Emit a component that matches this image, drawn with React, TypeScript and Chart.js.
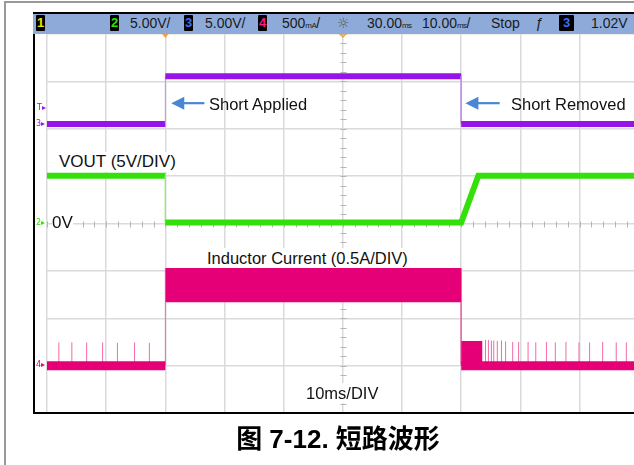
import React, { useEffect, useRef } from "react";
import { Chart, registerables } from "chart.js";

Chart.register(...registerables);

// ---------- Screen axes: time in ms (10 ms/div), vertical in screen divisions (8 div, centre = 0) ----------
const TIME_MIN_MS = 0;
const TIME_MAX_MS = 99.2; // the 10th division is cropped at the right edge of the capture
const TIME_STEP_MS = 10;
const DIV_MIN = -4;
const DIV_MAX = 4;

// ---------- Ch3: short-circuit control signal (purple), divisions ----------
const shortTimesMs = [0, 20, 20, 70, 70, 99.2];
const shortLevelsDiv = [2.1, 2.1, 3.11, 3.11, 2.1, 2.1];

// ---------- Ch2: VOUT (green), 5 V/div, 0 V on the centre line ----------
const voutTimesMs = [0, 20, 20, 70, 72.9, 99.2];
const voutLevelsDiv = [1.01, 1.01, 0.02, 0.02, 1.01, 1.01];

// ---------- Ch4: inductor current (pink), divisions ----------
const idleBeforeTimesMs = [0, 20];
const idleAfterTimesMs = [70, 99.2];
const idleLevelDiv = -3.0;
const shortBandTimesMs = [20, 70];
const shortBandTopDiv = [-0.94, -0.94];
const shortBandBottomDiv = [-1.66, -1.66];
const restartTimesMs = [70, 73.6];
const restartTopDiv = [-2.48, -2.48];
const edgeTimesMs = [20, 70];
const spikeTimesMs = [
  2.0, 4.2, 6.7, 9.4, 11.9, 14.8, 17.3,
  74.1, 74.6, 75.1, 75.5, 76.1, 76.8, 77.5, 78.7, 79.7, 81.3, 82.6, 84.4, 85.9, 87.7, 89.9, 91.7, 93.9, 96.2, 97.9,
];
const spikeTopsDiv = [
  -2.51, -2.51, -2.51, -2.51, -2.52, -2.51, -2.52,
  -2.46, -2.46, -2.47, -2.47, -2.48, -2.47, -2.49, -2.5, -2.5, -2.5, -2.51, -2.5, -2.51, -2.5, -2.51, -2.51, -2.5, -2.51, -2.51,
];

// ---------- Annotation arrows (data units) ----------
const arrowShortApplied = { fromMs: 26.6, toMs: 21.0, atDiv: 2.54 };
const arrowShortRemoved = { fromMs: 76.5, toMs: 70.7, atDiv: 2.54 };

const PURPLE = "#9614e6";
const PURPLE_LIGHT = "#c68cf2";
const GREEN = "#33e00a";
const GREEN_LIGHT = "#8ef06e";
const PINK = "#e60078";
const PINK_LIGHT = "#f06aa8";

const pts = (xs: number[], ys: number[]) => xs.map((x, i) => ({ x, y: ys[i] }));

const verticalThin = (w: number, main: string, light: string) => ({
  borderWidth: (c: any) => (c.p0.parsed.x === c.p1.parsed.x ? 1 : w),
  borderColor: (c: any) => (c.p0.parsed.x === c.p1.parsed.x ? light : main),
});

const scopePlugin = {
  id: "scopeDecor",
  beforeDatasetsDraw(chart: any) {
    const { ctx, scales } = chart;
    const x = scales.x;
    const y = scales.y;
    const x0 = Math.round(x.getPixelForValue(50)) + 0.5;
    const y0 = Math.round(y.getPixelForValue(0)) + 0.5;
    ctx.save();
    ctx.strokeStyle = "#b5b5b5";
    ctx.lineWidth = 1;
    ctx.beginPath();
    for (let t = TIME_MIN_MS; t <= TIME_MAX_MS; t += TIME_STEP_MS / 5) {
      const px = Math.round(x.getPixelForValue(t)) + 0.5;
      ctx.moveTo(px, y0 - 3);
      ctx.lineTo(px, y0 + 3);
    }
    for (let d = DIV_MIN; d <= DIV_MAX + 0.001; d += 0.2) {
      const py = Math.round(y.getPixelForValue(d)) + 0.5;
      ctx.moveTo(x0 - 3, py);
      ctx.lineTo(x0 + 3, py);
    }
    ctx.stroke();
    ctx.restore();
  },
  afterDraw(chart: any) {
    const { ctx, scales, chartArea } = chart;
    const x = scales.x;
    const y = scales.y;
    const drawArrow = (a: { fromMs: number; toMs: number; atDiv: number }) => {
      const tail = x.getPixelForValue(a.fromMs);
      const tip = x.getPixelForValue(a.toMs);
      const py = y.getPixelForValue(a.atDiv);
      const head = 13;
      ctx.save();
      ctx.strokeStyle = "#4a86d4";
      ctx.fillStyle = "#4a86d4";
      ctx.lineWidth = 2.2;
      ctx.beginPath();
      ctx.moveTo(tail, py);
      ctx.lineTo(tip + head - 1, py);
      ctx.stroke();
      ctx.beginPath();
      ctx.moveTo(tip, py);
      ctx.lineTo(tip + head, py - 6.5);
      ctx.lineTo(tip + head, py + 6.5);
      ctx.closePath();
      ctx.fill();
      ctx.restore();
    };
    drawArrow(arrowShortApplied);
    drawArrow(arrowShortRemoved);

    // orange trigger / delay markers below the header
    const top = chartArea.top - 1;
    const tx = x.getPixelForValue(20);
    ctx.save();
    ctx.fillStyle = "#f2a23a";
    ctx.beginPath();
    ctx.moveTo(tx - 4, top);
    ctx.lineTo(tx + 4, top);
    ctx.lineTo(tx, top + 5);
    ctx.closePath();
    ctx.fill();
    const cx = x.getPixelForValue(50);
    ctx.strokeStyle = "#f2a23a";
    ctx.lineWidth = 1.5;
    ctx.beginPath();
    ctx.moveTo(cx - 4, top);
    ctx.lineTo(cx, top + 4);
    ctx.lineTo(cx + 4, top);
    ctx.stroke();
    ctx.restore();
  },
};

const FONT = "'Liberation Sans', Arial, sans-serif";

const labelStyle = (left: number, top: number, size = 16.5): React.CSSProperties => ({
  position: "absolute",
  left,
  top,
  fontFamily: FONT,
  fontSize: size,
  lineHeight: "20px",
  color: "#111",
  background: "#fff",
  whiteSpace: "nowrap",
});

const boxStyle = (left: number, width: number, color: string): React.CSSProperties => ({
  position: "absolute",
  left,
  top: 15,
  width,
  height: 16,
  background: "#000",
  color,
  fontFamily: FONT,
  fontSize: 13,
  fontWeight: "bold",
  lineHeight: "16px",
  textAlign: "center",
  borderRadius: 1,
});

const hText = (left: number): React.CSSProperties => ({
  position: "absolute",
  left,
  top: 13,
  height: 20,
  fontFamily: FONT,
  fontSize: 14,
  lineHeight: "20px",
  color: "#1a1a1a",
  whiteSpace: "nowrap",
});

const unitStyle: React.CSSProperties = { fontSize: 8, letterSpacing: -0.6 };

const markerStyle = (left: number, top: number, color: string): React.CSSProperties => ({
  position: "absolute",
  left,
  top,
  fontFamily: "'DejaVu Sans', sans-serif",
  fontSize: 8,
  lineHeight: "9px",
  color,
  whiteSpace: "nowrap",
});

export default function App() {
  const canvasRef = useRef<HTMLCanvasElement>(null);

  useEffect(() => {
    const canvas = canvasRef.current;
    if (!canvas) return;
    const spikeData: any[] = [];
    spikeTimesMs.forEach((t, i) => {
      spikeData.push({ x: t, y: idleLevelDiv }, { x: t, y: spikeTopsDiv[i] }, { x: t, y: null });
    });
    const edgeData: any[] = [
      { x: edgeTimesMs[0], y: idleLevelDiv },
      { x: edgeTimesMs[0], y: shortBandTopDiv[0] },
      { x: (edgeTimesMs[0] + edgeTimesMs[1]) / 2, y: null },
      { x: edgeTimesMs[1], y: shortBandTopDiv[1] },
      { x: edgeTimesMs[1], y: idleLevelDiv },
    ];
    const base = { pointRadius: 0, pointHoverRadius: 0, tension: 0, spanGaps: false };
    const chart = new Chart(canvas, {
      type: "line",
      data: {
        datasets: [
          {
            ...base,
            label: "Ch3 short",
            data: pts(shortTimesMs, shortLevelsDiv),
            borderColor: PURPLE,
            borderWidth: 6,
            fill: false,
            segment: verticalThin(6, PURPLE, PURPLE_LIGHT),
          },
          {
            ...base,
            label: "Ch2 VOUT",
            data: pts(voutTimesMs, voutLevelsDiv),
            borderColor: GREEN,
            borderWidth: 6,
            fill: false,
            segment: verticalThin(6, GREEN, GREEN_LIGHT),
          },
          {
            ...base,
            label: "IL band top",
            data: pts(shortBandTimesMs, shortBandTopDiv),
            borderWidth: 0,
            borderColor: PINK,
            backgroundColor: PINK,
            fill: "+1",
          },
          {
            ...base,
            label: "IL band bottom",
            data: pts(shortBandTimesMs, shortBandBottomDiv),
            borderWidth: 0,
            borderColor: PINK,
            fill: false,
          },
          {
            ...base,
            label: "IL restart",
            data: pts(restartTimesMs, restartTopDiv),
            borderWidth: 0,
            borderColor: PINK,
            backgroundColor: PINK,
            fill: { value: idleLevelDiv },
          },
          {
            ...base,
            label: "IL idle before",
            data: pts(idleBeforeTimesMs, idleBeforeTimesMs.map(() => idleLevelDiv)),
            borderColor: PINK,
            borderWidth: 9,
            fill: false,
          },
          {
            ...base,
            label: "IL idle after",
            data: pts(idleAfterTimesMs, idleAfterTimesMs.map(() => idleLevelDiv)),
            borderColor: PINK,
            borderWidth: 9,
            fill: false,
          },
          {
            ...base,
            label: "IL spikes",
            data: spikeData,
            borderColor: PINK_LIGHT,
            borderWidth: 1,
            fill: false,
          },
          {
            ...base,
            label: "IL edges",
            data: edgeData,
            borderColor: PINK_LIGHT,
            borderWidth: 1,
            fill: false,
          },
        ],
      },
      options: {
        animation: false,
        responsive: false,
        maintainAspectRatio: false,
        devicePixelRatio: 1,
        events: [],
        layout: { padding: { left: 47, top: 34, right: 0, bottom: 52 } },
        plugins: { legend: { display: false }, tooltip: { enabled: false }, title: { display: false } },
        scales: {
          x: {
            type: "linear",
            min: TIME_MIN_MS,
            max: TIME_MAX_MS,
            ticks: { display: false, stepSize: TIME_STEP_MS, includeBounds: false },
            grid: { color: "#dadada", lineWidth: 1.5, drawTicks: false },
            border: { display: false },
          },
          y: {
            type: "linear",
            min: DIV_MIN,
            max: DIV_MAX,
            ticks: { display: false, stepSize: 1 },
            grid: { color: "#dadada", lineWidth: 1.5, drawTicks: false },
            border: { display: false },
          },
        },
      },
      plugins: [scopePlugin],
    } as any);
    return () => chart.destroy();
  }, []);

  return (
    <div
      style={{
        position: "fixed",
        left: 0,
        top: 0,
        width: 634,
        height: 465,
        background: "#fff",
        overflow: "hidden",
      }}
    >
      <canvas
        ref={canvasRef}
        width={634}
        height={465}
        style={{ position: "absolute", left: 0, top: 0, width: 634, height: 465 }}
      />
      {/* outer frame */}
      <div
        style={{
          position: "absolute",
          left: 4,
          top: 1,
          width: 640,
          height: 470,
          borderTop: "2px solid #999",
          borderLeft: "2px solid #999",
        }}
      />
      {/* scope screen border */}
      <div style={{ position: "absolute", left: 33, top: 13, width: 2, height: 401, background: "#000" }} />
      <div style={{ position: "absolute", left: 33, top: 412, width: 601, height: 2, background: "#000" }} />
      {/* header bar */}
      <div
        style={{
          position: "absolute",
          left: 33,
          top: 12,
          width: 601,
          height: 20,
          background: "#8eaad9",
          borderTop: "2px solid #000",
        }}
      />
      <div style={boxStyle(36, 9, "#e8e800")}>1</div>
      <div style={boxStyle(110, 9, "#33e00a")}>2</div>
      <span style={hText(130)}>5.00V/</span>
      <div style={boxStyle(184, 9, "#3d6cff")}>3</div>
      <span style={hText(205)}>5.00V/</span>
      <div style={boxStyle(258, 9, "#ff1a8c")}>4</div>
      <span style={hText(282)}>
        500<span style={unitStyle}>mA</span>/
      </span>
      <span style={{ ...hText(337), fontFamily: "'DejaVu Sans', sans-serif", color: "#555" }}>☼</span>
      <span style={hText(367)}>
        30.00<span style={unitStyle}>ms</span>
      </span>
      <span style={hText(422)}>
        10.00<span style={unitStyle}>ms</span>/
      </span>
      <span style={hText(491)}>Stop</span>
      <span style={{ ...hText(535), fontStyle: "italic" }}>ƒ</span>
      <div style={boxStyle(559, 15, "#3d6cff")}>3</div>
      <span style={hText(591)}>1.02V</span>

      {/* channel markers */}
      <span style={markerStyle(37, 103, PURPLE)}>T▸</span>
      <span style={markerStyle(36, 119, PURPLE)}>3▸</span>
      <span style={markerStyle(36, 218, GREEN)}>2▸</span>
      <span style={markerStyle(36, 360, PINK)}>4▸</span>

      {/* annotations */}
      <span style={labelStyle(59, 152, 17)}>VOUT (5V/DIV)</span>
      <span style={labelStyle(52, 213, 17)}>0V</span>
      <span style={{ ...labelStyle(209, 94), background: "transparent" }}>Short Applied</span>
      <span style={{ ...labelStyle(511, 94), background: "transparent" }}>Short Removed</span>
      <span style={labelStyle(207, 247.5, 16.5)}>Inductor Current (0.5A/DIV)</span>
      <span style={labelStyle(306, 382.5, 16.5)}>10ms/DIV</span>

      {/* caption */}
      <div
        style={{
          position: "absolute",
          left: 0,
          width: 676,
          top: 424,
          textAlign: "center",
          fontFamily: "'Liberation Sans', 'Noto Sans CJK SC', sans-serif",
          fontWeight: "bold",
          fontSize: 26,
          lineHeight: "30px",
          color: "#000",
          whiteSpace: "nowrap",
        }}
      >
        图 7-12. 短路波形
      </div>
    </div>
  );
}
